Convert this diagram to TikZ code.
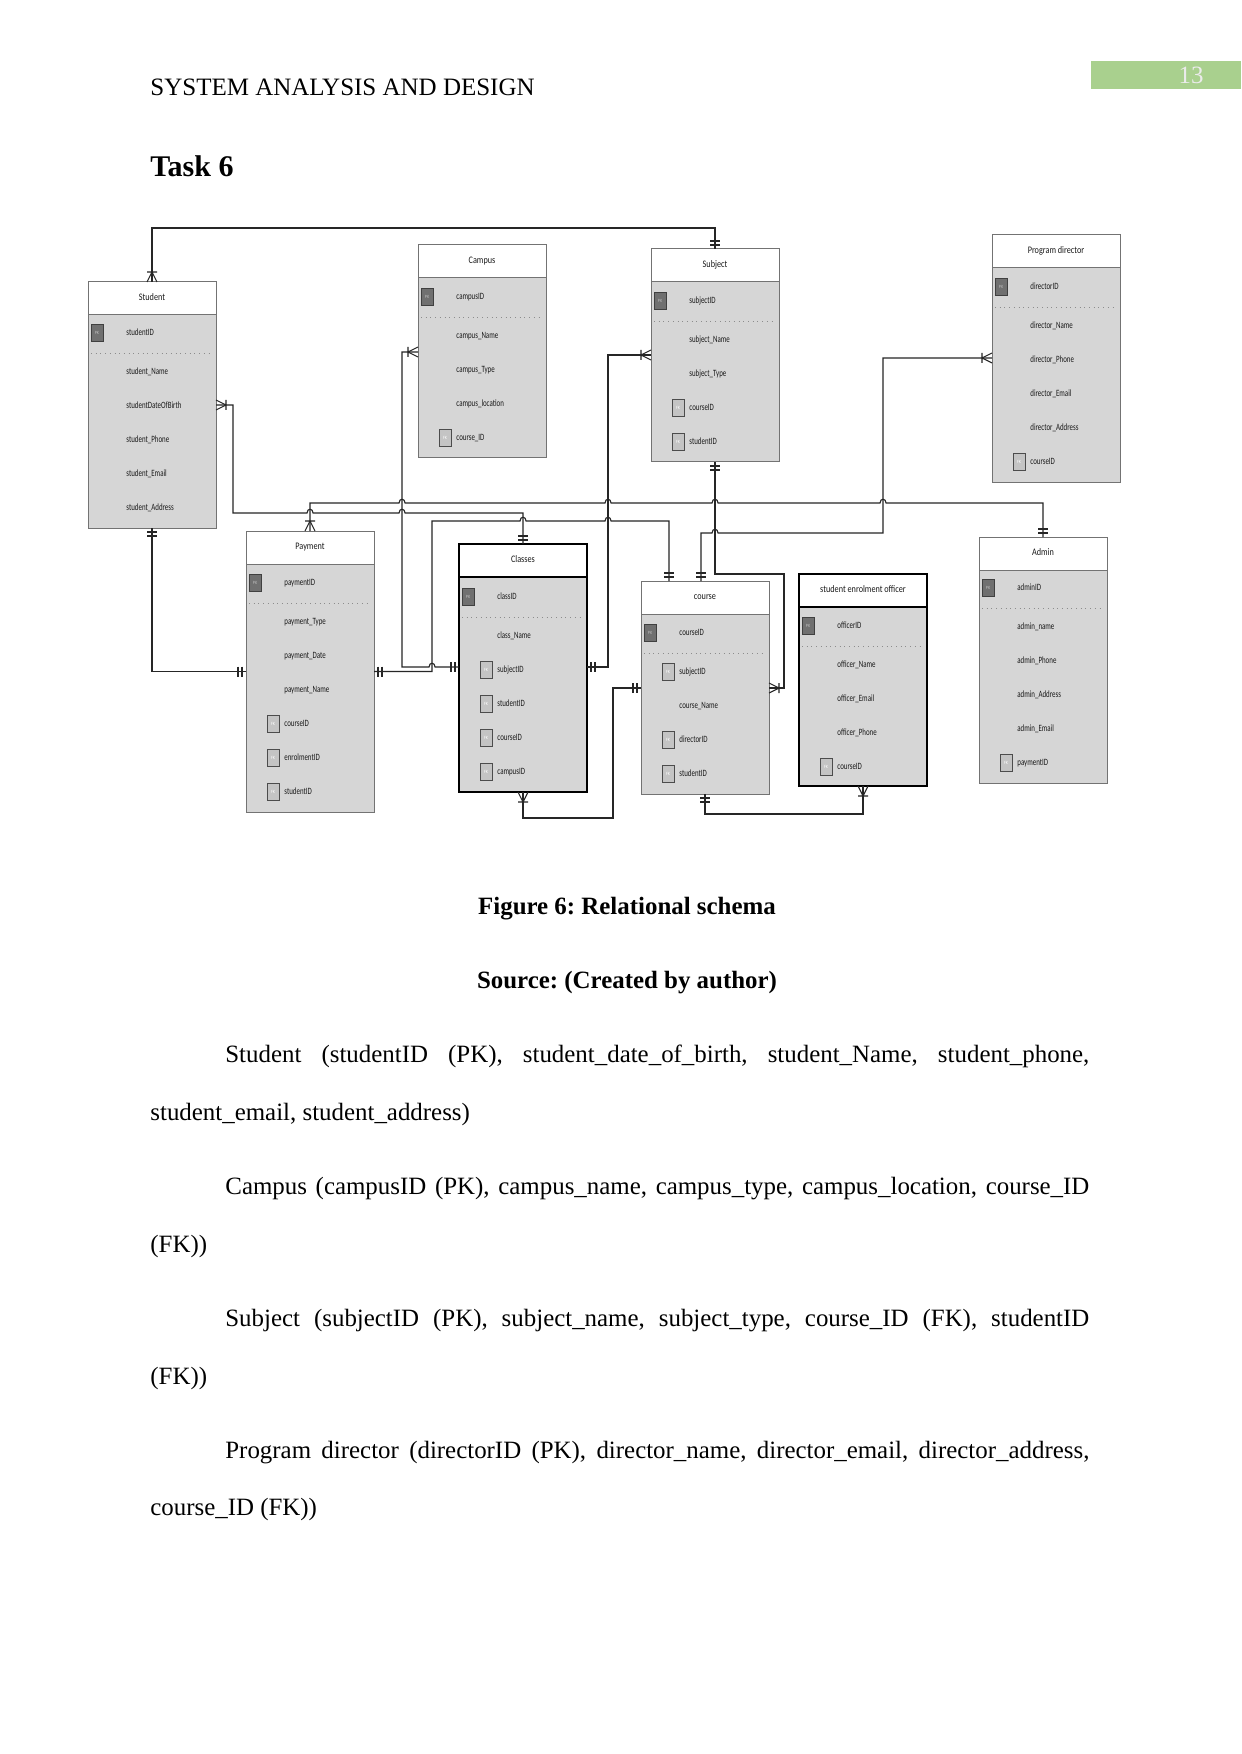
\documentclass[tikz,border=0pt]{standalone}
\usepackage{fontspec}
\setmainfont{Liberation Serif}
\newfontfamily\diagfont[FakeStretch=0.82]{Carlito}
\newfontfamily\attrfont[FakeStretch=0.72]{Carlito}
\definecolor{bodyg}{RGB}{214,214,214}
\definecolor{pagegreen}{RGB}{169,208,142}
\definecolor{pkfill}{RGB}{112,112,112}
\definecolor{fkfill}{RGB}{196,196,196}
\tikzset{
 tbody/.style={draw=black!55, line width=0.5pt, fill=bodyg, minimum width=64pt, inner sep=0pt, outer sep=0pt},
 thead/.style={draw=black!55, line width=0.5pt, fill=white, minimum width=64pt, minimum height=16.5pt, inner sep=0pt, outer sep=0pt, font=\diagfont\fontsize{5}{6}\selectfont, text height=3.4pt, text depth=1.1pt, text=black!90},
 heavy/.style={draw=black, line width=0.9pt},
 attr/.style={anchor=west, inner sep=0pt, font=\attrfont\fontsize{4.8}{5.5}\selectfont, text height=3.3pt, text depth=0.9pt, text=black!90},
 pkb/.style={draw=black!75, line width=0.4pt, fill=pkfill, minimum width=6pt, minimum height=8.5pt, inner sep=0pt, font=\diagfont\fontsize{2.4}{3}\selectfont, text=white!75!black},
 fkb/.style={draw=black!70, line width=0.4pt, fill=fkfill, minimum width=6pt, minimum height=8.5pt, inner sep=0pt, font=\diagfont\fontsize{2.4}{3}\selectfont, text=white},
 sepl/.style={draw=black!45, line width=0.35pt, dotted},
 rel/.style={draw=black!85, line width=0.55pt},
 body/.style={anchor=base west, inner sep=0pt, font=\fontsize{12.45}{14}\selectfont},
}
\newcommand\ertab[6]{%
  \node[tbody,#6,anchor=north west,minimum height={(#4-#3)*0.5pt}] (#1) at (#2,#3) {};
  \node[thead,#6,anchor=north west] (#1h) at (#2,#3) {#5};
}
\newcommand\pkr[4]{\node[pkb] (#1k) at (#2+9,#3) {PK}; \node[attr] (#1) at (#2+38,#3) {#4};}
\newcommand\fkr[4]{\node[fkb] (#1k) at (#2+27,#3) {FK}; \node[attr] (#1) at (#2+38,#3) {#4};}
\newcommand\atr[4]{\node[attr] (#1) at (#2+38,#3) {#4};}
\newcommand\sepr[2]{\draw[sepl] (#1+3,#2) -- (#1+125,#2);}
\newcommand\dbarU[2]{\draw[rel] (#1-5,#2-4) -- (#1+5,#2-4) (#1-5,#2-8) -- (#1+5,#2-8);}
\newcommand\dbarD[2]{\draw[rel] (#1-5,#2+4) -- (#1+5,#2+4) (#1-5,#2+8) -- (#1+5,#2+8);}
\newcommand\dbarL[2]{\draw[rel] (#1-4,#2-5) -- (#1-4,#2+5) (#1-8,#2-5) -- (#1-8,#2+5);}
\newcommand\dbarR[2]{\draw[rel] (#1+4,#2-5) -- (#1+4,#2+5) (#1+8,#2-5) -- (#1+8,#2+5);}
\newcommand\crowU[2]{\draw[rel] (#1-5,#2) -- (#1,#2-10) -- (#1+5,#2) (#1-5,#2-10) -- (#1+5,#2-10);}
\newcommand\crowD[2]{\draw[rel] (#1-5,#2) -- (#1,#2+10) -- (#1+5,#2) (#1-5,#2+10) -- (#1+5,#2+10);}
\newcommand\crowL[2]{\draw[rel] (#1,#2-5) -- (#1-10,#2) -- (#1,#2+5) (#1-10,#2-5) -- (#1-10,#2+5);}
\newcommand\crowR[2]{\draw[rel] (#1,#2-5) -- (#1+10,#2) -- (#1,#2+5) (#1+10,#2-5) -- (#1+10,#2+5);}
\frenchspacing
\begin{document}
\begin{tikzpicture}[x=0.5pt,y=-0.5pt]
\useasboundingbox (0,0) rectangle (1241,1754);
\fill[white] (0,0) rectangle (1241,1754);
% page header
\node[anchor=base west, inner sep=0pt, font=\fontsize{12.5}{14}\selectfont] (hdr) at (150,96) {SYSTEM ANALYSIS AND DESIGN};
\node[fill=pagegreen, anchor=north west, minimum width=75pt, minimum height=14pt, inner sep=0pt] (pnbox) at (1091,61) {};
\node[anchor=base, inner sep=0pt, font=\fontsize{12.45}{14}\selectfont, text=white!92!black] (pnum) at (1191,84) {13};
\node[anchor=base west, inner sep=0pt, font=\bfseries\fontsize{15}{17}\selectfont] (task) at (150,177) {Task 6};
% tables
\ertab{student}{88}{282}{528}{Student}{}
\pkr{s1}{88}{333}{studentID}
\sepr{88}{353}
\atr{s2}{88}{372}{student\_Name}
\atr{s3}{88}{406}{studentDateOfBirth}
\atr{s4}{88}{440}{student\_Phone}
\atr{s5}{88}{474}{student\_Email}
\atr{s6}{88}{508}{student\_Address}
\ertab{campus}{418}{245}{458}{Campus}{}
\pkr{c1}{418}{297}{campusID}
\sepr{418}{317}
\atr{c2}{418}{336}{campus\_Name}
\atr{c3}{418}{370}{campus\_Type}
\atr{c4}{418}{404}{campus\_location}
\fkr{c5}{418}{438}{course\_ID}
\ertab{subject}{651}{249}{462}{Subject}{}
\pkr{u1}{651}{301}{subjectID}
\sepr{651}{321}
\atr{u2}{651}{340}{subject\_Name}
\atr{u3}{651}{374}{subject\_Type}
\fkr{u4}{651}{408}{courseID}
\fkr{u5}{651}{442}{studentID}
\ertab{director}{992}{235}{482}{Program director}{}
\pkr{d1}{992}{287}{directorID}
\sepr{992}{307}
\atr{d2}{992}{326}{director\_Name}
\atr{d3}{992}{360}{director\_Phone}
\atr{d4}{992}{394}{director\_Email}
\atr{d5}{992}{428}{director\_Address}
\fkr{d6}{992}{462}{courseID}
\ertab{payment}{246}{531}{812}{Payment}{}
\pkr{p1}{246}{583}{paymentID}
\sepr{246}{603}
\atr{p2}{246}{622}{payment\_Type}
\atr{p3}{246}{656}{payment\_Date}
\atr{p4}{246}{690}{payment\_Name}
\fkr{p5}{246}{724}{courseID}
\fkr{p6}{246}{758}{enrolmentID}
\fkr{p7}{246}{792}{studentID}
\ertab{classes}{459}{544}{792}{Classes}{heavy}
\pkr{k1}{459}{597}{classID}
\sepr{459}{617}
\atr{k2}{459}{636}{class\_Name}
\fkr{k3}{459}{670}{subjectID}
\fkr{k4}{459}{704}{studentID}
\fkr{k5}{459}{738}{courseID}
\fkr{k6}{459}{772}{campusID}
\ertab{course}{641}{581}{794}{course}{}
\pkr{o1}{641}{633}{courseID}
\sepr{641}{653}
\fkr{o2}{641}{672}{subjectID}
\atr{o3}{641}{706}{course\_Name}
\fkr{o4}{641}{740}{directorID}
\fkr{o5}{641}{774}{studentID}
\ertab{officer}{799}{574}{786}{student enrolment officer}{heavy}
\pkr{e1}{799}{626}{officerID}
\sepr{799}{646}
\atr{e2}{799}{665}{officer\_Name}
\atr{e3}{799}{699}{officer\_Email}
\atr{e4}{799}{733}{officer\_Phone}
\fkr{e5}{799}{767}{courseID}
\ertab{admin}{979}{537}{783}{Admin}{}
\pkr{a1}{979}{588}{adminID}
\sepr{979}{608}
\atr{a2}{979}{627}{admin\_name}
\atr{a3}{979}{661}{admin\_Phone}
\atr{a4}{979}{695}{admin\_Address}
\atr{a5}{979}{729}{admin\_Email}
\fkr{a6}{979}{763}{paymentID}
% connectors
\coordinate (r1) at (152,228);
\draw[rel] (student.north) -- (r1) -| (subject.north);
\draw[rel] (student.east) -- (233,405) -- (233,513) -- (307,513) .. controls (307,508) and (313,508) .. (313,513) -- (399,513) .. controls (399,508) and (405,508) .. (405,513) -- (523,513) -- (classes.north);
\draw[rel] (student.south) |- (payment.west);
\draw[rel] (payment.north) -- (310,503) -- (399,503) .. controls (399,498) and (405,498) .. (405,503) -- (605,503) .. controls (605,498) and (611,498) .. (611,503) -- (712,503) .. controls (712,498) and (718,498) .. (718,503) -- (880,503) .. controls (880,498) and (886,498) .. (886,503) -- (1043,503) -- (admin.north);
\draw[rel] (payment.east) -- (432,671.5) -- (432,521) -- (520,521) .. controls (520,516) and (526,516) .. (526,521) -- (605,521) .. controls (605,516) and (611,516) .. (611,521) -- (669,521) -- (669,581);
\draw[rel] (418,352) -- (402,352) -- (402,667) -- (429,667) .. controls (429,662) and (435,662) .. (435,667) -- (459,667);
\draw[rel] (651,355) -- (608,355) -- (608,667) -- (587,667);
\draw[rel] (subject.south) -- (715,574) -- (784,574) -- (784,688) -- (769,688);
\draw[rel] (701,581) -- (701,533) -- (712,533) .. controls (712,528) and (718,528) .. (718,533) -- (883,533) -- (883,358) -- (992,358);
\draw[rel] (classes.south) -- (523,818) -- (613,818) -- (613,688) -- (641,688);
\draw[rel] (705,794) -- (705,814) -- (863,814) -- (officer.south);
% cardinality marks
\crowU{152}{282} \dbarU{715}{249}
\crowR{216}{405} \dbarU{523}{544}
\dbarD{152}{528} \dbarL{246}{671.5}
\crowU{310}{531} \dbarU{1043}{537}
\dbarR{374}{671.5} \dbarU{669}{581}
\crowL{418}{352} \dbarL{459}{667}
\crowL{651}{355} \dbarR{587}{667}
\dbarD{715}{462} \crowR{769}{688}
\dbarU{701}{581} \crowL{992}{358}
\crowD{523}{792} \dbarL{641}{688}
\dbarD{705}{794} \crowD{863}{786}
% captions
\node[anchor=base, inner sep=0pt, font=\bfseries\fontsize{12.45}{14}\selectfont] (cap) at (627,914) {Figure 6: Relational schema};
\node[anchor=base, inner sep=0pt, font=\bfseries\fontsize{12.45}{14}\selectfont] (src) at (627,988) {Source: (Created by author)};
% body text
\node[body] (l1) at (225,1062) {\makebox[432pt][s]{Student (studentID (PK), student\_date\_of\_birth, student\_Name, student\_phone,}};
\node[body] (l2) at (150,1120) {student\_email, student\_address)};
\node[body] (l3) at (225,1194) {\makebox[432pt][s]{Campus (campusID (PK), campus\_name, campus\_type, campus\_location, course\_ID}};
\node[body] (l4) at (150,1252) {(FK))};
\node[body] (l5) at (225,1326) {\makebox[432pt][s]{Subject (subjectID (PK), subject\_name, subject\_type, course\_ID (FK), studentID}};
\node[body] (l6) at (150,1384) {(FK))};
\node[body] (l7) at (225,1458) {\makebox[432pt][s]{Program director (directorID (PK), director\_name, director\_email, director\_address,}};
\node[body] (l8) at (150,1515) {course\_ID (FK))};
\end{tikzpicture}
\end{document}
